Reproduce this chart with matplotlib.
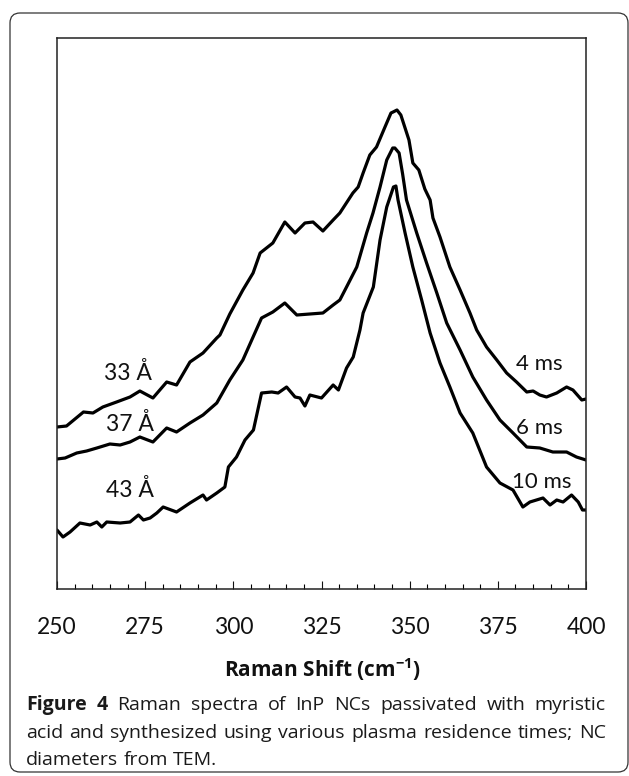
import matplotlib
matplotlib.use("Agg")
import matplotlib.pyplot as plt
from matplotlib.patches import FancyBboxPatch
from matplotlib.ticker import MultipleLocator

# ---------------- data (Raman shift cm^-1, intensity a.u.) ----------------
shift_4ms = [250.0, 252.7, 257.5, 260.2, 263.0, 266.9, 270.7, 273.5, 277.2, 281.1,
             283.9, 287.7, 291.4, 295.3, 296.2, 299.0, 302.7, 305.6, 307.6, 311.2,
             314.6, 317.5, 320.3, 322.6, 325.4, 328.3, 330.2, 333.9, 335.4, 336.8,
             338.7, 340.6, 343.0, 344.7, 345.3, 346.4, 347.5, 349.8, 350.9, 352.6,
             354.3, 355.8, 356.6, 358.6, 361.4, 364.3, 367.1, 369.0, 371.8, 374.7,
             377.5, 380.3, 383.2, 385.0, 386.9, 388.8, 391.7, 394.5, 396.3, 398.8, 400.0]
int_4ms = [162, 163, 177, 176, 182, 187, 192, 198, 191, 207,
           204, 227, 236, 251, 254, 275, 299, 316, 336, 346,
           367, 356, 366, 367, 358, 369, 376, 396, 402, 416,
           434, 442, 462, 476, 477, 479, 474, 449, 426, 419,
           400, 389, 371, 352, 322, 299, 276, 259, 242, 229,
           216, 207, 197, 198, 194, 192, 196, 202, 199, 189, 190]

shift_6ms = [250.0, 252.3, 255.6, 258.4, 261.3, 265.0, 267.9, 270.7, 273.5, 277.2,
             281.1, 283.9, 287.7, 291.4, 295.3, 299.0, 302.7, 305.6, 308.0, 311.2,
             314.6, 318.0, 321.7, 325.4, 328.3, 330.2, 332.1, 335.0, 337.8, 339.6,
             341.6, 343.5, 345.2, 345.8, 347.0, 348.0, 349.1, 352.0, 354.8, 357.7,
             360.5, 364.3, 367.9, 371.8, 375.6, 379.3, 383.2, 386.9, 390.6, 394.5,
             397.3, 400.0]
int_6ms = [130, 131, 136, 138, 141, 145, 144, 147, 152, 147,
           161, 157, 166, 174, 186, 209, 229, 252, 271, 277,
           286, 274, 275, 276, 284, 289, 302, 322, 356, 376,
           402, 429, 441, 441, 436, 415, 389, 356, 326, 296,
           266, 239, 212, 189, 169, 156, 142, 141, 137, 137,
           132, 129]

shift_10ms = [250.0, 251.7, 253.7, 256.5, 259.4, 261.3, 262.7, 264.1, 267.9, 270.7,
              273.1, 274.5, 276.4, 278.3, 280.1, 283.9, 287.7, 291.4, 292.4, 295.3,
              297.6, 298.6, 300.9, 303.3, 305.7, 308.0, 310.9, 312.7, 315.1, 317.5,
              318.9, 320.3, 321.7, 325.0, 328.3, 329.8, 332.1, 334.0, 335.9, 336.8,
              339.7, 341.6, 343.5, 345.4, 346.1, 346.7, 348.7, 350.9, 353.4, 355.8,
              358.6, 361.4, 364.3, 367.9, 371.8, 375.6, 379.3, 382.1, 384.1, 387.8,
              389.8, 391.7, 393.5, 395.9, 397.8, 399.0, 400.0]
int_10ms = [59, 52, 57, 66, 64, 67, 62, 67, 66, 67,
            74, 69, 71, 76, 82, 77, 86, 94, 89, 96,
            102, 122, 132, 149, 159, 196, 197, 196, 202, 192,
            191, 183, 194, 191, 204, 199, 221, 232, 259, 276,
            302, 349, 382, 402, 403, 389, 356, 322, 289, 256,
            226, 202, 176, 156, 122, 106, 99, 82, 87, 91,
            84, 89, 87, 94, 87, 79, 79]

size_labels = ["33 Å", "37 Å", "43 Å"]
time_labels = ["4 ms", "6 ms", "10 ms"]
xtick_values = [250, 275, 300, 325, 350, 375, 400]

# ---------------- figure ----------------
plt.rcParams['font.family'] = ['Lato', 'DejaVu Sans']
plt.rcParams['mathtext.fontset'] = 'custom'
plt.rcParams['mathtext.rm'] = 'Open Sans:bold'
plt.rcParams['mathtext.default'] = 'rm'

W, H = 629, 776
fig = plt.figure(figsize=(W / 100, H / 100), dpi=100)

# rounded outer border
border = FancyBboxPatch((0.10, 0.04), 6.18, 7.59,
                        boxstyle="round,pad=0,rounding_size=0.1",
                        transform=fig.dpi_scale_trans, fill=False,
                        edgecolor='#333333', linewidth=0.9)
fig.patches.append(border)

left, right, top, bottom = 57, 586, 38, 589
ax = fig.add_axes([left / W, 1 - bottom / H, (right - left) / W, (bottom - top) / H])

for x, y in [(shift_4ms, int_4ms), (shift_6ms, int_6ms), (shift_10ms, int_10ms)]:
    ax.plot(x, y, color='black', linewidth=2.3, solid_joinstyle='round', solid_capstyle='round')

ax.set_xlim(250, 400)
ax.set_ylim(0, 551)

for s in ax.spines.values():
    s.set_linewidth(1.1)
    s.set_color('#222222')

ax.set_xticks(xtick_values)
ax.set_xticklabels([str(v) for v in xtick_values])
ax.xaxis.set_minor_locator(MultipleLocator(5))
ax.tick_params(axis='x', which='major', direction='in', length=5.5, width=0.8,
               pad=20.5, labelsize=16.5, colors='#111111')
ax.tick_params(axis='x', which='minor', direction='in', length=3.6, width=0.8)
ax.set_yticks([])

# curve annotations
size_pos = [(270.2, 216), (270.7, 165), (270.7, 99)]
time_pos = [(386.9, 225), (386.9, 161), (387.4, 107)]
for lab, (xx, yy) in zip(size_labels, size_pos):
    ax.text(xx, yy, lab, fontsize=16.5, ha='center', va='center', color='#111111')
for lab, (xx, yy) in zip(time_labels, time_pos):
    ax.text(xx, yy, lab, fontsize=16, ha='center', va='center', color='#111111')

fig.text(322 / W, 1 - 677 / H, r'Raman Shift (cm$^{-1}$)', ha='center', va='baseline',
         fontsize=15, fontweight='bold', family=['Open Sans', 'DejaVu Sans'], color='#111111')

# ---------------- caption (justified) ----------------
cap_lines = [
    ([("Figure", 'bold'), ("4", 'bold'), ("Raman", 'normal'), ("spectra", 'normal'),
      ("of", 'normal'), ("InP", 'normal'), ("NCs", 'normal'), ("passivated", 'normal'),
      ("with", 'normal'), ("myristic", 'normal')], 710, True),
    ([("acid", 'normal'), ("and", 'normal'), ("synthesized", 'normal'), ("using", 'normal'),
      ("various", 'normal'), ("plasma", 'normal'), ("residence", 'normal'), ("times;", 'normal'),
      ("NC", 'normal')], 738, True),
    ([("diameters", 'normal'), ("from", 'normal'), ("TEM.", 'normal')], 765, False),
]
cap_left, cap_right = 26, 606
cap_font = ['Open Sans', 'DejaVu Sans']
cap_size = 14

fig.canvas.draw()
rend = fig.canvas.get_renderer()
sp_a = fig.text(0, 0, "a a", fontsize=cap_size, family=cap_font)
sp_b = fig.text(0, 0, "aa", fontsize=cap_size, family=cap_font)
space_w = sp_a.get_window_extent(rend).width - sp_b.get_window_extent(rend).width
sp_a.remove(); sp_b.remove()

for words, base_y, justify in cap_lines:
    texts = []
    for w, wt in words:
        t = fig.text(0, 1 - base_y / H, w, fontsize=cap_size, fontweight=wt,
                     family=cap_font, ha='left', va='baseline', color='#1a1a1a')
        texts.append(t)
    widths = [t.get_window_extent(rend).width for t in texts]
    if justify and len(texts) > 1:
        gap = (cap_right - cap_left - sum(widths)) / (len(texts) - 1)
    else:
        gap = space_w
    x = cap_left
    for t, wdt in zip(texts, widths):
        t.set_x(x / W)
        x += wdt + gap

fig.savefig("out.png", dpi=100)
